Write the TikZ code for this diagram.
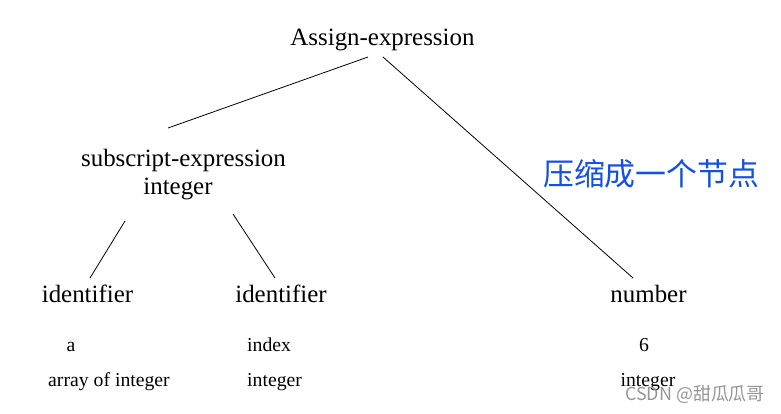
\documentclass[tikz,border=0pt]{standalone}
\usepackage{fontspec}
\setmainfont{Liberation Serif}
\newfontfamily\cjkfont{Noto Sans CJK SC}
\definecolor{pen}{RGB}{20,80,225}
\definecolor{mark}{RGB}{150,150,150}
\begin{document}
\begin{tikzpicture}[x=1bp,y=-1bp,
  big/.style={font=\fontsize{25}{28}\selectfont, inner sep=0pt, anchor=base},
  small/.style={font=\fontsize{19.8}{22}\selectfont, inner sep=0pt, anchor=base},
  edge/.style={draw=black, line width=0.8bp}]
\useasboundingbox (0,0) rectangle (781,413);
\fill[white] (0,0) rectangle (781,413);
% main nodes
\node[big] (assign) at (382.5,45) {Assign-expression};
\node[big] (sub) at (183.5,166) {subscript-expression};
\node[big] (subt) at (178,194) {integer};
\node[big] (idl) at (87.5,302) {identifier};
\node[big] (idr) at (281,302) {identifier};
\node[big] (num) at (648.5,302) {number};
% attribute labels
\node[small] (la) at (71,351) {a};
\node[small, anchor=base west] (lindex) at (247,351) {index};
\node[small] (l6) at (644,351) {6};
\node[small] (lt1) at (109,386) {array of integer};
\node[small, anchor=base west] (lt2) at (247,386) {integer};
\node[small] (lt3) at (648,386) {integer};
% connector ends
\coordinate (a1) at (368,57);
\coordinate (a2) at (383,57);
\coordinate (s1) at (168,128);
\coordinate (s2) at (125,221);
\coordinate (s3) at (233,214);
\coordinate (i1) at (90,278);
\coordinate (i2) at (275,278);
\coordinate (n1) at (633,278);
\draw[edge] (a1) -- (s1);
\draw[edge] (a2) -- (n1);
\draw[edge] (s2) -- (i1);
\draw[edge] (s3) -- (i2);
% handwritten note
\node[inner sep=0pt, anchor=base west, text=pen, font=\cjkfont\fontsize{31}{33}\selectfont] (note) at (543,185) {压缩成一个节点};
% watermark
\node[inner sep=0pt, anchor=base east, text=mark, font=\cjkfont\fontsize{18}{20}\selectfont] (wm) at (765,400) {CSDN @甜瓜瓜哥};
\end{tikzpicture}
\end{document}
